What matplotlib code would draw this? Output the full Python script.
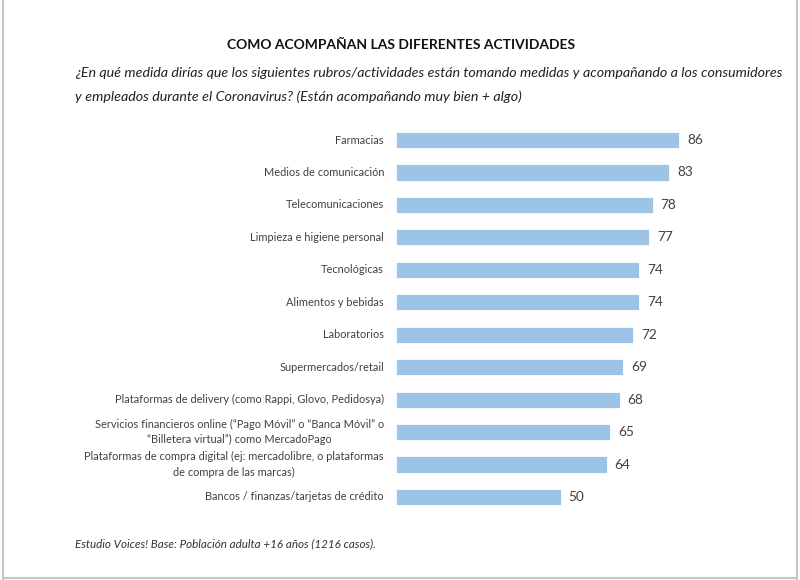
import matplotlib
matplotlib.use("Agg")
import matplotlib.pyplot as plt
from matplotlib.lines import Line2D
from matplotlib.transforms import offset_copy

plt.rcParams['font.family'] = ['Lato', 'DejaVu Sans']

categories = [
    "Farmacias",
    "Medios de comunicación",
    "Telecomunicaciones",
    "Limpieza e higiene personal",
    "Tecnológicas",
    "Alimentos y bebidas",
    "Laboratorios",
    "Supermercados/retail",
    "Plataformas de delivery (como Rappi, Glovo, Pedidosya)",
    "Servicios financieros online (“Pago Móvil” o “Banca Móvil” o\n“Billetera virtual”) como MercadoPago",
    "Plataformas de compra digital (ej: mercadolibre, o plataformas\nde compra de las marcas)",
    "Bancos / finanzas/tarjetas de crédito",
]
values = [86, 83, 78, 77, 74, 74, 72, 69, 68, 65, 64, 50]

title = "COMO ACOMPAÑAN LAS DIFERENTES ACTIVIDADES"
subtitle1 = "¿En qué medida dirías que los siguientes rubros/actividades están tomando medidas y acompañando a los consumidores"
subtitle2 = "y empleados durante el Coronavirus? (Están acompañando muy bien + algo)"
footer = "Estudio Voices! Base: Población adulta +16 años (1216 casos)."

TXT = "#404040"
BAR = "#9DC3E6"

fig = plt.figure(figsize=(8, 5.8), dpi=100)
ax = fig.add_axes([396/800, 1-513.2/580, 329/800, 389.4/580])

ypos = list(range(len(categories)))
ax.barh(ypos, values, height=0.5, color=BAR, edgecolor='white', linewidth=0.6)
ax.set_xlim(0, 100)
ax.set_ylim(len(categories)-0.5, -0.5)
ax.axis('off')

lab_tr = offset_copy(ax.transData, fig=fig, x=-12, y=0, units='dots')
val_tr = offset_copy(ax.transData, fig=fig, x=8, y=0, units='dots')
for y, c, v in zip(ypos, categories, values):
    ax.text(0, y, c, transform=lab_tr, ha='right', va='center', multialignment='center',
            fontsize=7.9, color=TXT, linespacing=1.45)
    ax.text(v, y, str(v), transform=val_tr, ha='left', va='center', fontsize=9.8, color=TXT)

fig.text(401/800, 1-45/580, title, ha='center', va='center', fontsize=10,
         fontweight='bold', color='#111111')
fig.text(75/800, 1-73/580, subtitle1, ha='left', va='center', fontsize=10.3,
         fontstyle='italic', color='#222222')
fig.text(75/800, 1-97/580, subtitle2, ha='left', va='center', fontsize=10.3,
         fontstyle='italic', color='#222222')
fig.text(75/800, 1-544/580, footer, ha='left', va='center', fontsize=8.4,
         fontstyle='italic', color='#333333')

# frame on left, right, bottom
for xs, ys in [([2.5/800, 2.5/800], [0, 1]), ([797/800, 797/800], [0, 1]), ([2.5/800, 797/800], [2/580, 2/580])]:
    fig.add_artist(Line2D(xs, ys, color='#c8c8c8', linewidth=1.5, transform=fig.transFigure))

fig.savefig("out.png", dpi=100, facecolor='white')
